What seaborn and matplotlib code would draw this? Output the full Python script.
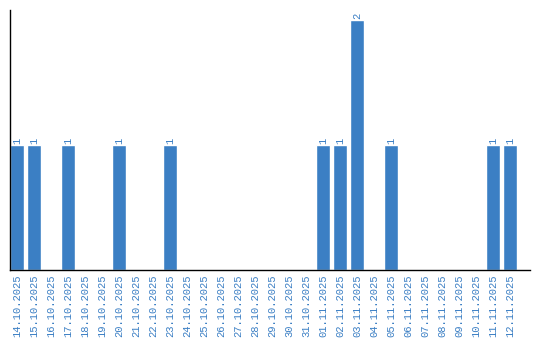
import matplotlib
matplotlib.use("Agg")
import matplotlib.pyplot as plt
import seaborn as sns
import pandas as pd

dates = ["14.10.2025", "15.10.2025", "16.10.2025", "17.10.2025", "18.10.2025",
         "19.10.2025", "20.10.2025", "21.10.2025", "22.10.2025", "23.10.2025",
         "24.10.2025", "25.10.2025", "26.10.2025", "27.10.2025", "28.10.2025",
         "29.10.2025", "30.10.2025", "31.10.2025", "01.11.2025", "02.11.2025",
         "03.11.2025", "04.11.2025", "05.11.2025", "06.11.2025", "07.11.2025",
         "08.11.2025", "09.11.2025", "10.11.2025", "11.11.2025", "12.11.2025"]
counts = [1, 1, 0, 1, 0, 0, 1, 0, 0, 1,
          0, 0, 0, 0, 0, 0, 0, 0, 1, 1,
          2, 0, 1, 0, 0, 0, 0, 0, 1, 1]

df = pd.DataFrame({"date": dates, "count": counts})
blue = "#3b7fc4"

sns.set_style("white")
fig = plt.figure(figsize=(5.4, 3.4), dpi=100)
ax = fig.add_axes([10/540, 70/340, 520/540, 260/340])
bw = 14/17
sns.barplot(data=df, x="date", y="count", color=blue, saturation=1, width=bw, ax=ax)
ax.set_ylim(0, 2.08)
left = -bw/2
ax.set_xlim(left, left + 520/17)
ax.set_xlabel("")
ax.set_ylabel("")
ax.set_yticks([])
ax.tick_params(axis="x", length=0, pad=3)
for lab in ax.get_xticklabels():
    lab.set_rotation(90)
    lab.set_family("Liberation Mono")
    lab.set_fontsize(7.6)
    lab.set_color(blue)
for side in ["top", "right"]:
    ax.spines[side].set_visible(False)
for side in ["left", "bottom"]:
    ax.spines[side].set_color("black")
    ax.spines[side].set_linewidth(1)
for i, v in enumerate(counts):
    if v > 0:
        ax.text(i, v + 0.01, str(v), rotation=90, ha="center", va="bottom",
                family="Liberation Mono", fontsize=7.6, color=blue)
fig.savefig("out.png", dpi=100)
